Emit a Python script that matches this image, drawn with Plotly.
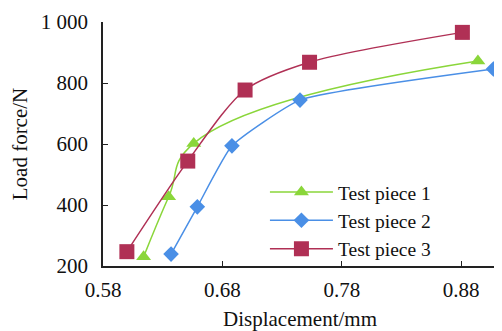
import plotly.graph_objects as go

x1 = [0.614, 0.635, 0.656, 0.894]
y1 = [230, 427, 602, 872]
x2 = [0.637, 0.659, 0.688, 0.745, 0.907]
y2 = [239, 394, 594, 744, 846]
x3 = [0.600, 0.651, 0.699, 0.753, 0.881]
y3 = [247, 544, 777, 868, 966]
names = ["Test piece 1", "Test piece 2", "Test piece 3"]
xticks = [0.58, 0.68, 0.78, 0.88]
yticks = [200, 400, 600, 800, 1000]
yticklabels = ["200", "400", "600", "800", "1 000"]

colors = ["#8AD63A", "#4A8FE6", "#B03055"]
symbols = ["triangle-up", "diamond", "square"]
sizes = [13, 12, 15]
smooth = [1.3, 0.45, 0.8]

fig = go.Figure()
for xs, ys, n, c, s, sz, sm in zip([x1, x2, x3], [y1, y2, y3], names, colors, symbols, sizes, smooth):
    fig.add_trace(go.Scatter(
        x=xs, y=ys, name=n, mode="lines+markers",
        line=dict(color=c, width=1.5, shape="spline", smoothing=sm),
        marker=dict(symbol=s, size=sz, color=c, line=dict(width=0)),
    ))

FAM = "Times New Roman, Liberation Serif, serif"
font = dict(family=FAM, size=21, color="#111")
lfont = dict(family=FAM, size=19.5, color="#111")
fig.update_layout(
    width=494, height=323,
    margin=dict(l=95, r=5, t=14, b=65, autoexpand=False),
    plot_bgcolor="white", paper_bgcolor="white",
    font=font,
    showlegend=True,
    legend=dict(x=0.411, y=0.382, xanchor="left", yanchor="top",
                bgcolor="rgba(0,0,0,0)", font=lfont,
                tracegroupgap=0, itemwidth=63),
)
fig.update_xaxes(
    range=[0.58, 0.91], tickvals=xticks, ticktext=[f"{v:.2f}" for v in xticks],
    showgrid=False, zeroline=False, showline=True, linecolor="#222", linewidth=1.5,
    ticks="inside", ticklen=5, tickcolor="#222", tickwidth=1.2, tickfont=font,
    ticklabelstandoff=4, automargin=False,
    title=dict(text="Displacement/mm", standoff=12, font=font),
)
fig.update_yaxes(
    range=[200, 1000], tickvals=yticks, ticktext=yticklabels,
    showgrid=False, zeroline=False, showline=True, linecolor="#222", linewidth=1.5,
    ticks="inside", ticklen=5, tickcolor="#222", tickwidth=1.2, tickfont=font,
    ticklabelstandoff=9, automargin=False,
    title=dict(text="Load force/N", standoff=12, font=font),
)
fig.write_html("out.html")
